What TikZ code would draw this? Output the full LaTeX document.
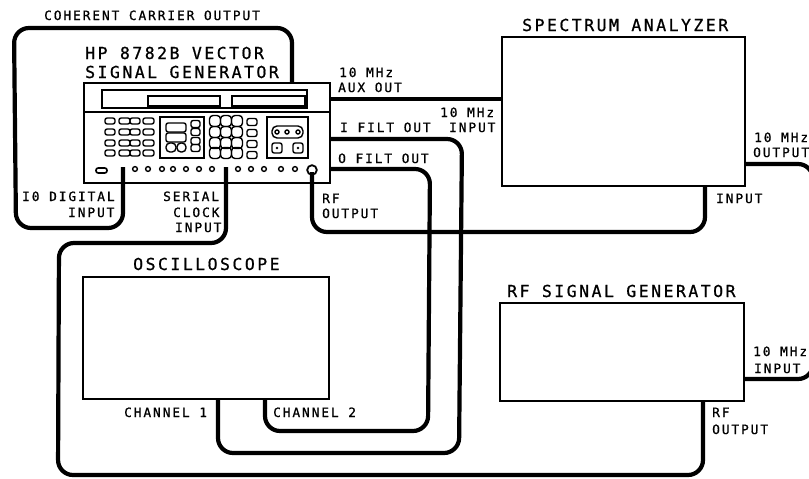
\documentclass[tikz,border=0pt]{standalone}
\usepackage{fontspec}
\newfontfamily\plotfont[LetterSpace=15,FakeBold=0.9]{DejaVu Sans Mono}
\tikzset{
  lbl/.style={font=\plotfont\fontsize{12.8}{14}\selectfont,anchor=base west,inner sep=0pt,text=black},
  hdr/.style={font=\plotfont\fontsize{16.5}{18}\selectfont,anchor=base west,inner sep=0pt,text=black},
  unitbox/.style={draw=black,line width=1.3pt,anchor=north west,inner sep=0pt,outer sep=0pt},
  cable/.style={draw=black,line width=4.2pt,rounded corners=15pt},
  panel/.style={draw=black,line width=1.2pt},
  pkey/.style={draw=black,line width=1.4pt,rounded corners=2.2pt},
  dot/.style={draw=black,line width=1.4pt}
}
\begin{document}
\begin{tikzpicture}[x=1pt,y=-1pt]
\clip (0,0) rectangle (809,479);
\fill[white] (0,0) rectangle (809,479);
% instruments
\node[unitbox,minimum width=246pt,minimum height=100pt] (gen) at (84,83) {};
\node[unitbox,minimum width=243pt,minimum height=149pt] (sa) at (502,37) {};
\node[unitbox,minimum width=246pt,minimum height=122pt] (scope) at (83,277) {};
\node[unitbox,minimum width=244pt,minimum height=98pt] (rfgen) at (500,303) {};
% generator panel
\draw[panel] (84,112) -- (330,112);
\draw[panel] (102,90) rectangle (307,108);
\draw[panel] (148,96) rectangle (220,106);
\draw[panel] (232,96) rectangle (305,106);
\foreach \y in {121,132,143,153}{
  \draw[pkey] (105,\y-3) rectangle (115,\y+3);
  \draw[pkey] (119,\y-3) rectangle (130,\y+3);
  \draw[pkey] (130,\y-3) rectangle (140,\y+3);
  \draw[pkey] (143,\y-3) rectangle (154,\y+3);
  \foreach \x in {215,226,237}{\draw[pkey,rounded corners=3.5pt] (\x-5.5,\y-5.5) rectangle (\x+5.5,\y+5.5);}
}
\draw[panel] (160,117) rectangle (204,158);
\draw[pkey] (166,123) rectangle (186,132);
\draw[pkey] (166,133) rectangle (186,142);
\draw[pkey,rounded corners=4pt] (166,143) rectangle (176,152);
\draw[pkey,rounded corners=4pt] (177,143) rectangle (186,152);
\foreach \y in {124,132,141,148}{\draw[pkey] (191,\y-3.5) rectangle (200,\y+3.5);}
\foreach \y in {122,133,144,155}{\draw[pkey] (247,\y-3.5) rectangle (257,\y+3.5);}
\draw[panel] (267,117) rectangle (308,158);
\draw[pkey,rounded corners=5pt] (272,126) rectangle (303,138);
\foreach \x in {277,287,298}{\draw[dot] (\x,132) circle (2pt);}
\foreach \x in {277,298}{\draw[pkey] (\x-5,143) rectangle (\x+5,153);\fill (\x,148) circle (1.3pt);}
\draw[pkey,line width=1.6pt] (96,168) rectangle (107,173);
\foreach \x in {135,148,162,173,186,199,212,238,251,264,281,295}{\draw[dot] (\x,169) circle (2.4pt);}
\draw[dot,line width=1.8pt] (312,170) circle (4.8pt);
% ports
\coordinate (pIO) at (123,167);
\coordinate (pCarrier) at (292,83);
\coordinate (pClock) at (226,167);
\coordinate (pRFout) at (312,172);
\coordinate (pAux) at (330,99);
\coordinate (pSAref) at (502,99);
\coordinate (pI) at (330,139);
\coordinate (pQ) at (330,169);
\coordinate (pSAin) at (705,186);
\coordinate (pSAout) at (745,164);
\coordinate (pRFin) at (744,379);
\coordinate (pRFgen) at (703,401);
\coordinate (pCh1) at (218,399);
\coordinate (pCh2) at (265,399);
% cables
\draw[cable] (pIO) -- (123,228) -- (16,228) -- (14,28) -- (292,28) -- (pCarrier);
\draw[cable] (pClock) -- (226,243) -- (59,243) -- (58,475) -- (703,475) -- (pRFgen);
\draw[cable] (pRFout) -- (312,232) -- (705,232) -- (pSAin);
\draw[cable,rounded corners=0pt] (pAux) -- (pSAref);
\draw[cable] (pI) -- (462,139) -- (459,453) -- (218,453) -- (pCh1);
\draw[cable] (pQ) -- (430,169) -- (428,431) -- (265,431) -- (pCh2);
\draw[cable] (pSAout) -- (813,164) -- (813,379) -- (pRFin);
% labels
\node[lbl] (t1) at (44,20) {COHERENT CARRIER OUTPUT};
\node[hdr] (t2) at (85,59) {HP 8782B VECTOR};
\node[hdr] (t3) at (85,78) {SIGNAL GENERATOR};
\node[lbl] (t4) at (339,77) {10 MHz};
\node[lbl] (t5) at (338,92) {AUX OUT};
\node[lbl] (t6) at (440,117) {10 MHz};
\node[lbl] (t7) at (449,132) {INPUT};
\node[lbl] (t8) at (340,132) {I FILT OUT};
\node[lbl] (t9) at (338,163) {O FILT OUT};
\node[lbl] (t10) at (322,203) {RF};
\node[lbl] (t11) at (322,218) {OUTPUT};
\node[lbl] (t12) at (22,201) {I0 DIGITAL};
\node[lbl] (t13) at (68,217) {INPUT};
\node[lbl] (t14) at (163,201) {SERIAL};
\node[lbl] (t15) at (173,217) {CLOCK};
\node[lbl] (t16) at (175,232) {INPUT};
\node[hdr] (t17) at (133,270) {OSCILLOSCOPE};
\node[lbl] (t18) at (124,417) {CHANNEL 1};
\node[lbl] (t19) at (273,417) {CHANNEL 2};
\node[hdr] (t20) at (522,31) {SPECTRUM ANALYZER};
\node[hdr] (t21) at (507,297) {RF SIGNAL GENERATOR};
\node[lbl] (t22) at (754,142) {10 MHz};
\node[lbl] (t23) at (753,157) {OUTPUT};
\node[lbl] (t24) at (716,203) {INPUT};
\node[lbl] (t25) at (753,356) {10 MHz};
\node[lbl] (t26) at (754,373) {INPUT};
\node[lbl] (t27) at (712,417) {RF};
\node[lbl] (t28) at (712,434) {OUTPUT};
\end{tikzpicture}
\end{document}
